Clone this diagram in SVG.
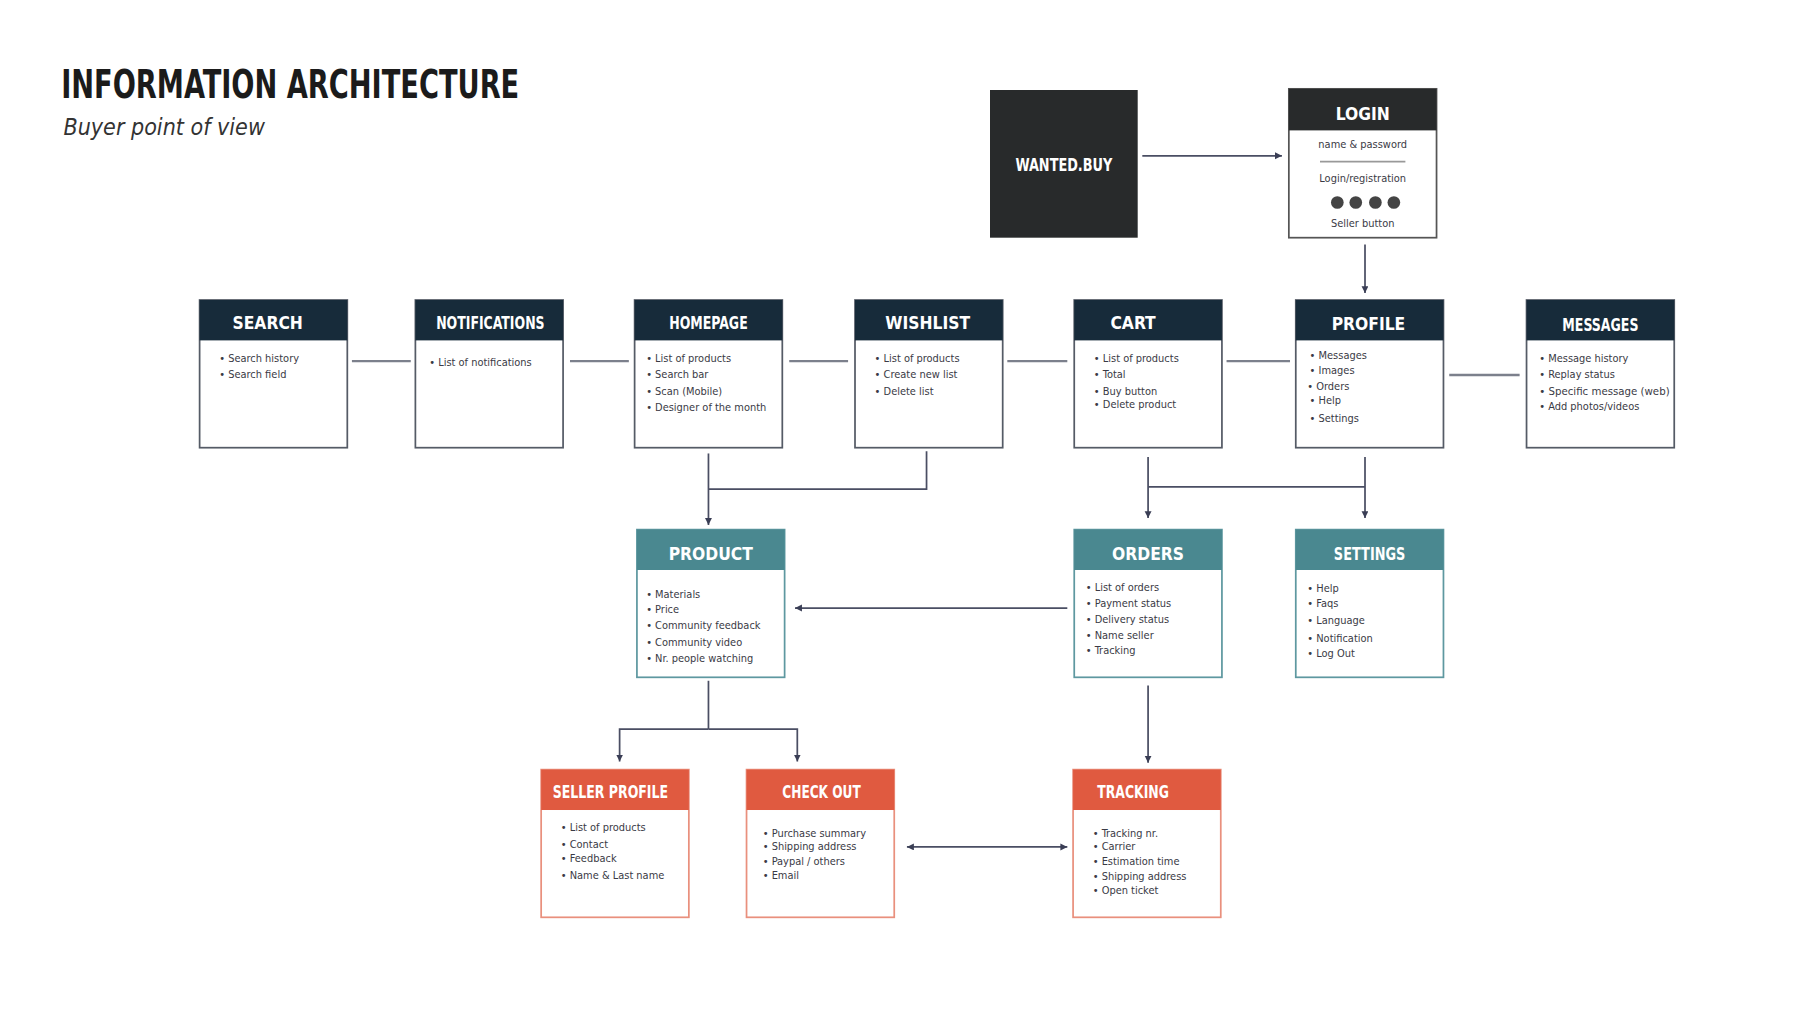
<svg xmlns="http://www.w3.org/2000/svg" width="1800" height="1012" viewBox="0 0 1800 1012">
<style>
.t{font-family:"DejaVu Sans Condensed","DejaVu Sans",sans-serif;font-weight:bold;fill:#fff;font-size:15px;text-anchor:middle}
.b{font-family:"DejaVu Sans Condensed","DejaVu Sans",sans-serif;font-size:9.5px;fill:#3a3a45}
.nv{fill:#fff;stroke:#555b66;stroke-width:1.5}
.tl{fill:#fff;stroke:#5e98a0;stroke-width:1.5}
.or{fill:#fff;stroke:#e9907d;stroke-width:1.5}
.c{stroke:#4a4e63;stroke-width:1.5;fill:none}
.g{stroke:#7c808c;stroke-width:2;fill:none}
</style>
<defs>
<marker id="a" markerWidth="8" markerHeight="8" refX="6" refY="3" orient="auto-start-reverse" markerUnits="userSpaceOnUse"><path d="M0,0 L6,3 L0,6 z" fill="#3a3e55"/></marker>
</defs>
<rect width="1800" height="1012" fill="#fff"/>
<g transform="scale(1.15385)">
<text x="53" y="85" font-family="DejaVu Sans Condensed,sans-serif" font-weight="bold" font-size="34" fill="#1b1b1b" textLength="397" lengthAdjust="spacingAndGlyphs">INFORMATION ARCHITECTURE</text>
<text x="55" y="117" font-family="DejaVu Sans Condensed,sans-serif" font-style="italic" font-size="20" fill="#333">Buyer point of view</text>

<g id="connectors">
<path class="c" d="M990,135 H1111" marker-end="url(#a)"/>
<path class="c" d="M1183,212 V254" marker-end="url(#a)"/>
<path class="g" d="M305,313 H356 M494,313 H545 M684,313 H735 M873,313 H925 M1063,313 H1118 M1256,325 H1317"/>
<path class="c" d="M614,393 V455" marker-end="url(#a)"/>
<path class="c" d="M803,391 V424 H614"/>
<path class="c" d="M995,396 V449" marker-end="url(#a)"/>
<path class="c" d="M1183,396 V449" marker-end="url(#a)"/>
<path class="c" d="M995,422 H1183"/>
<path class="c" d="M925,527 H689" marker-end="url(#a)"/>
<path class="c" d="M614,590 V632"/>
<path class="c" d="M614,632 H537 V660" marker-end="url(#a)"/>
<path class="c" d="M614,632 H691 V660" marker-end="url(#a)"/>
<path class="c" d="M995,594 V661" marker-end="url(#a)"/>
<path class="c" d="M786,734 H925" marker-start="url(#a)" marker-end="url(#a)"/>
</g>

<g id="wanted"><rect x="858" y="78" width="128" height="128" fill="#282a2b"/><text class="t" x="922" y="148" textLength="84" lengthAdjust="spacingAndGlyphs">WANTED.BUY</text></g>
<g id="login"><rect x="1117" y="77" width="128" height="129" fill="#fff" stroke="#555" stroke-width="1.5"/><rect x="1117" y="77" width="128" height="36" fill="#282a2b"/><text class="t" x="1181" y="104">LOGIN</text>
<text class="b" x="1181" y="128" text-anchor="middle">name &amp; password</text>
<line x1="1144" y1="140" x2="1218" y2="140" stroke="#999" stroke-width="1.5"/>
<text class="b" x="1181" y="158" text-anchor="middle">Login/registration</text>
<g fill="#444"><circle cx="1159" cy="175.5" r="5.5"/><circle cx="1175" cy="175.5" r="5.5"/><circle cx="1192" cy="175.5" r="5.5"/><circle cx="1208" cy="175.5" r="5.5"/></g>
<text class="b" x="1181" y="197" text-anchor="middle">Seller button</text></g>

<g id="search"><rect class="nv" x="173" y="260" width="128" height="128"/><rect x="173" y="260" width="128" height="35" fill="#172b3a"/><text class="t" x="232" y="285">SEARCH</text><text class="b" x="190" y="314">• Search history</text><text class="b" x="190" y="328">• Search field</text></g>
<g id="notifications"><rect class="nv" x="360" y="260" width="128" height="128"/><rect x="360" y="260" width="128" height="35" fill="#172b3a"/><text class="t" x="425" y="285" textLength="94" lengthAdjust="spacingAndGlyphs">NOTIFICATIONS</text><text class="b" x="372" y="317">• List of notifications</text></g>
<g id="homepage"><rect class="nv" x="550" y="260" width="128" height="128"/><rect x="550" y="260" width="128" height="35" fill="#172b3a"/><text class="t" x="614" y="285" textLength="68" lengthAdjust="spacingAndGlyphs">HOMEPAGE</text><text class="b" x="560" y="314">• List of products</text><text class="b" x="560" y="328">• Search bar</text><text class="b" x="560" y="342">• Scan (Mobile)</text><text class="b" x="560" y="356">• Designer of the month</text></g>
<g id="wishlist"><rect class="nv" x="741" y="260" width="128" height="128"/><rect x="741" y="260" width="128" height="35" fill="#172b3a"/><text class="t" x="804" y="285">WISHLIST</text><text class="b" x="758" y="314">• List of products</text><text class="b" x="758" y="328">• Create new list</text><text class="b" x="758" y="342">• Delete list</text></g>
<g id="cart"><rect class="nv" x="931" y="260" width="128" height="128"/><rect x="931" y="260" width="128" height="35" fill="#172b3a"/><text class="t" x="982" y="285">CART</text><text class="b" x="948" y="314">• List of products</text><text class="b" x="948" y="328">• Total</text><text class="b" x="948" y="342">• Buy button</text><text class="b" x="948" y="354">• Delete product</text></g>
<g id="profile"><rect class="nv" x="1123" y="260" width="128" height="128"/><rect x="1123" y="260" width="128" height="35" fill="#172b3a"/><text class="t" x="1186" y="286">PROFILE</text><text class="b" x="1135" y="311">• Messages</text><text class="b" x="1135" y="324">• Images</text><text class="b" x="1133" y="338">• Orders</text><text class="b" x="1135" y="350">• Help</text><text class="b" x="1135" y="366">• Settings</text></g>
<g id="messages"><rect class="nv" x="1323" y="260" width="128" height="128"/><rect x="1323" y="260" width="128" height="35" fill="#172b3a"/><text class="t" x="1387" y="287" textLength="66" lengthAdjust="spacingAndGlyphs">MESSAGES</text><text class="b" x="1334" y="314">• Message history</text><text class="b" x="1334" y="328">• Replay status</text><text class="b" x="1334" y="342" textLength="113" lengthAdjust="spacingAndGlyphs">• Specific message (web)</text><text class="b" x="1334" y="355">• Add photos/videos</text></g>

<g id="product"><rect class="tl" x="552" y="459" width="128" height="128"/><rect x="552" y="459" width="128" height="35" fill="#4a8890"/><text class="t" x="616" y="485">PRODUCT</text><text class="b" x="560" y="518">• Materials</text><text class="b" x="560" y="531">• Price</text><text class="b" x="560" y="545">• Community feedback</text><text class="b" x="560" y="560">• Community video</text><text class="b" x="560" y="574">• Nr. people watching</text></g>
<g id="orders"><rect class="tl" x="931" y="459" width="128" height="128"/><rect x="931" y="459" width="128" height="35" fill="#4a8890"/><text class="t" x="995" y="485">ORDERS</text><text class="b" x="941" y="512">• List of orders</text><text class="b" x="941" y="526">• Payment status</text><text class="b" x="941" y="540">• Delivery status</text><text class="b" x="941" y="554">• Name seller</text><text class="b" x="941" y="567">• Tracking</text></g>
<g id="settings"><rect class="tl" x="1123" y="459" width="128" height="128"/><rect x="1123" y="459" width="128" height="35" fill="#4a8890"/><text class="t" x="1187" y="485" textLength="62" lengthAdjust="spacingAndGlyphs">SETTINGS</text><text class="b" x="1133" y="513">• Help</text><text class="b" x="1133" y="526">• Faqs</text><text class="b" x="1133" y="541">• Language</text><text class="b" x="1133" y="556">• Notification</text><text class="b" x="1133" y="569">• Log Out</text></g>

<g id="seller-profile"><rect class="or" x="469" y="667" width="128" height="128"/><rect x="469" y="667" width="128" height="35" fill="#e05a40"/><text class="t" x="529" y="692" textLength="100" lengthAdjust="spacingAndGlyphs">SELLER PROFILE</text><text class="b" x="486" y="720">• List of products</text><text class="b" x="486" y="735">• Contact</text><text class="b" x="486" y="747">• Feedback</text><text class="b" x="486" y="762">• Name &amp; Last name</text></g>
<g id="checkout"><rect class="or" x="647" y="667" width="128" height="128"/><rect x="647" y="667" width="128" height="35" fill="#e05a40"/><text class="t" x="712" y="692" textLength="68" lengthAdjust="spacingAndGlyphs">CHECK OUT</text><text class="b" x="661" y="725">• Purchase summary</text><text class="b" x="661" y="737">• Shipping address</text><text class="b" x="661" y="750">• Paypal / others</text><text class="b" x="661" y="762">• Email</text></g>
<g id="tracking"><rect class="or" x="930" y="667" width="128" height="128"/><rect x="930" y="667" width="128" height="35" fill="#e05a40"/><text class="t" x="982" y="692" textLength="62" lengthAdjust="spacingAndGlyphs">TRACKING</text><text class="b" x="947" y="725">• Tracking nr.</text><text class="b" x="947" y="737">• Carrier</text><text class="b" x="947" y="750">• Estimation time</text><text class="b" x="947" y="763">• Shipping address</text><text class="b" x="947" y="775">• Open ticket</text></g>
</g>
</svg>
